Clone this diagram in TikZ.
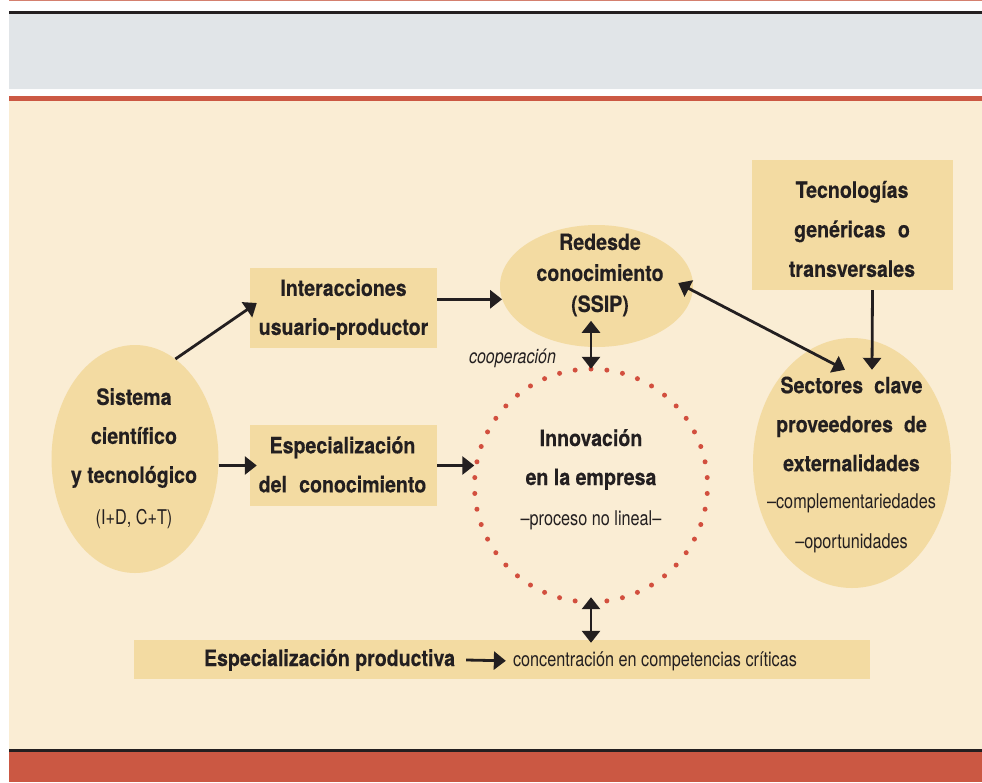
\documentclass[tikz,border=0pt]{standalone}
\usepackage{fontspec}
\setmainfont{TeX Gyre Heros}[
  UprightFeatures={FakeStretch=0.8},
  ItalicFeatures={FakeStretch=0.8},
  BoldFeatures={FakeStretch=0.87, FakeBold=0.3}]
\usetikzlibrary{shapes.geometric,arrows.meta}

\definecolor{cream}{HTML}{FAEDD4}
\definecolor{tan}{HTML}{F3DBA2}
\definecolor{bandgray}{HTML}{E1E5E8}
\definecolor{brick}{HTML}{CB5843}
\definecolor{ink}{HTML}{231F20}
\definecolor{dotred}{HTML}{D24F3E}
\definecolor{thinred}{HTML}{D4806F}

\begin{document}
\begin{tikzpicture}[x=1pt,y=-1pt,
  heavy/.style={font=\bfseries\fontsize{22.5}{39}\selectfont, align=center, text=ink, inner sep=0pt},
  light/.style={font=\fontsize{20.3}{40}\selectfont, align=center, text=ink, inner sep=0pt},
  tanbox/.style={fill=tan, inner sep=0pt},
  tanoval/.style={ellipse, fill=tan, inner sep=0pt},
  arr/.style={draw=ink, line width=2.8pt, -{Triangle[length=12pt,width=18pt]}},
  dbl/.style={draw=ink, line width=2.8pt, {Triangle[length=12pt,width=18pt]}-{Triangle[length=12pt,width=18pt]}},
]
\useasboundingbox (0,0) rectangle (982,782);

% page frame: header band, cream panel, footer band
\fill[white] (0,0) rectangle (982,782);
\fill[thinred] (9,0) rectangle (982,1.3);
\fill[ink] (9,11) rectangle (982,13.7);
\fill[bandgray] (9,13.7) rectangle (982,89);
\fill[white!96!bandgray] (9,89) rectangle (982,96);
\fill[brick] (9,96) rectangle (982,101);
\fill[cream] (9,101) rectangle (982,749);
\fill[ink] (9,749) rectangle (982,752);
\fill[brick] (9,752) rectangle (982,782);

% shapes
\node[tanoval, minimum width=167pt, minimum height=228pt] (sist) at (135,459) {};
\node[tanbox, minimum width=187pt, minimum height=80pt] (inter) at (343.5,308) {};
\node[tanbox, minimum width=187pt, minimum height=81pt] (espc) at (343.5,465.5) {};
\node[tanoval, minimum width=193pt, minimum height=122pt] (redes) at (596.5,286) {};
\node[circle, minimum size=233pt, inner sep=0pt] (inn) at (591,485.5) {};
\node[tanbox, minimum width=201pt, minimum height=130pt] (tec) at (852.5,225) {};
\node[tanoval, minimum width=198pt, minimum height=250pt] (sect) at (852,463) {};
\node[tanbox, minimum width=736pt, minimum height=39pt] (bar) at (502,659.5) {};

% dotted ring of the innovation process
\foreach \k in {0,...,45}
  \fill[dotred] ([shift={(90+\k*360/46:116.5)}]inn.center) circle (2.5pt);

% texts
\node[heavy] (sistA) at (134,438) {Sistema\\científico\\y tecnológico};
\node[light] (sistB) at (134,519) {(I+D, C+T)};
\node[heavy] (interA) at (343.5,309.5) {Interacciones\\usuario-productor};
\node[heavy] (espcA) at (342.5,464.5) {Especialización\\del\hspace{0.3em} conocimiento};
\node[heavy, font=\bfseries\fontsize{22.5}{31}\selectfont] (redesA) at (600,275) {Redesde\\conocimiento\\(SSIP)};
\node[anchor=base, text=ink, inner sep=0pt, font=\itshape\fontsize{20}{20}\selectfont] (coop) at (512.5,363) {cooperación};
\node[heavy] (innA) at (591,459.5) {Innovación\\en la empresa};
\node[light] (innB) at (591,520) {–proceso no lineal–};
\node[heavy, font=\bfseries\fontsize{22.5}{39.5}\selectfont] (tecA) at (852,229) {Tecnologías\\genéricas\hspace{0.3em} o\\transversales};
\node[heavy] (sectA) at (851.5,424) {Sectores\hspace{0.25em} clave\\proveedores\hspace{0.25em} de\\externalidades};
\node[light] (sectB) at (851.5,523) {–complementariedades\\–oportunidades};
\node[heavy, anchor=base] (prod) at (329.5,666) {Especialización productiva};
\node[light, anchor=base] (conc) at (655,666) {concentración en competencias críticas};

% connectors
\draw[arr] (sist.68) -- ([xshift=7pt,yshift=5pt]inter.west);
\draw[arr, shorten >=-7pt] (sist.east |- espc.west) -- (espc.west);
\draw[arr] (espc.east) -- (espc.east -| inn.west);
\draw[arr] (inter.east |- redes.188) -- (redes.188);
\draw[dbl] ([xshift=-15pt,yshift=3pt]redes.east) -- ([xshift=-7pt,yshift=-32pt]sect.north);
\draw[arr] ([xshift=20pt]tec.south) -- ([xshift=20pt,yshift=-32pt]sect.north);
\draw[dbl] ([yshift=48pt]inn.north) -- (inn.north);
\draw[dbl, shorten <=-5pt, shorten >=-3pt] (inn.south) -- (inn.south |- bar.north);
\draw[arr] ([xshift=11pt]prod.east) -- ([xshift=-7pt]conc.west);
\end{tikzpicture}
\end{document}
